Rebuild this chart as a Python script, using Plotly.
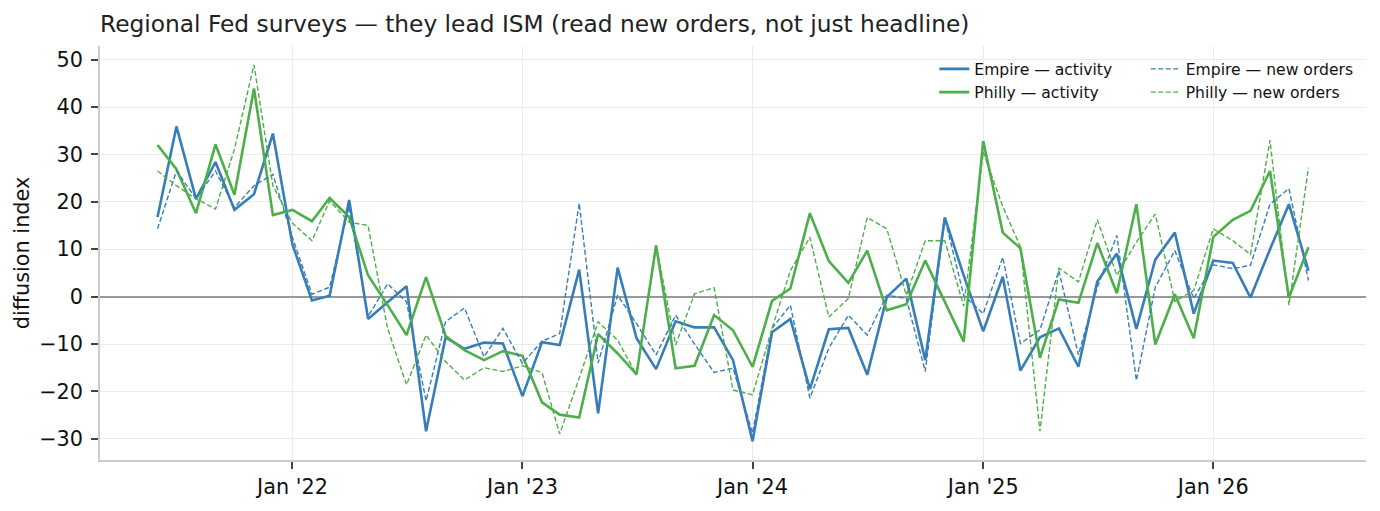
import plotly.graph_objects as go
import pandas as pd

# ---- data (monthly, Jun 2021 .. Jun 2026) ----
months = pd.date_range("2021-06-01", periods=61, freq="MS")

empire_activity = [
    16.8, 35.9, 20.6, 28.4, 18.3, 21.6, 34.4, 11.0, -0.8, 0.2,
    20.4, -4.7, -1.2, 2.2, -28.4, -8.6, -11.0, -9.7, -9.9, -21.0,
    -9.6, -10.2, 5.7, -24.6, 6.1, -8.8, -15.3, -5.2, -6.5, -6.5,
    -13.4, -30.5, -7.5, -4.7, -19.5, -6.9, -6.6, -16.5, -0.1, 3.8,
    -13.4, 16.7, 4.5, -7.3, 4.2, -15.6, -8.6, -6.7, -14.8, 3.2,
    9.1, -6.8, 7.8, 13.5, -3.6, 7.6, 7.1, -0.2, 10.0, 19.5,
    5.5,
]
philly_activity = [
    32.0, 26.9, 17.6, 32.1, 21.5, 43.9, 17.2, 18.3, 15.9, 20.8,
    16.8, 4.5, -1.8, -8.1, 4.1, -8.3, -11.3, -13.4, -11.5, -12.5,
    -22.3, -24.9, -25.5, -7.9, -12.0, -16.4, 10.8, -15.1, -14.6, -3.9,
    -7.1, -14.8, -0.9, 1.7, 17.6, 7.5, 2.9, 9.7, -2.9, -1.6,
    7.6, -1.1, -9.5, 32.8, 13.5, 10.2, -12.9, -0.6, -1.3, 11.3,
    0.7, 19.5, -10.1, 0.5, -8.8, 12.6, 16.2, 18.1, 26.5, -0.2,
    10.4,
]
empire_new_orders = [
    14.3, 26.5, 20.7, 26.5, 18.8, 23.4, 25.8, 12.5, 0.5, 2.0,
    19.0, -4.2, 2.7, -1.1, -22.0, -5.3, -2.4, -12.7, -6.7, -14.1,
    -9.4, -7.8, 19.7, -14.0, 0.3, -5.7, -12.3, -3.9, -10.0, -16.0,
    -15.1, -28.8, -6.7, -1.8, -21.4, -10.9, -3.9, -8.1, 0.3, -0.4,
    -15.8, 16.5, 0.3, -3.6, 8.3, -9.9, -7.0, 5.5, -12.3, 2.0,
    12.9, -17.7, 2.0, 9.7, -0.4, 6.7, 5.9, 6.6, 19.5, 22.8,
    3.4,
]
philly_new_orders = [
    26.5, 23.4, 20.6, 18.5, 31.1, 48.9, 23.4, 15.5, 11.8, 20.2,
    15.7, 15.0, -6.7, -18.6, -8.1, -13.7, -17.6, -15.0, -15.8, -14.6,
    -16.0, -29.0, -17.2, -5.3, -9.2, -16.5, 10.8, -10.2, 0.6, 1.9,
    -19.7, -20.7, -6.7, 5.5, 12.5, -4.3, -0.4, 16.7, 14.3, 0.3,
    11.8, 11.8, -2.0, 30.5, 19.0, 10.5, -28.4, 6.0, 3.1, 16.2,
    4.5, 11.5, 17.4, -1.0, 1.3, 14.3, 11.8, 8.9, 33.0, -1.8,
    27.2,
]

x_tick_dates = ["2022-01-01", "2023-01-01", "2024-01-01", "2025-01-01", "2026-01-01"]
x_tick_labels = ["Jan '22", "Jan '23", "Jan '24", "Jan '25", "Jan '26"]
y_tick_vals = [-30, -20, -10, 0, 10, 20, 30, 40, 50]
y_tick_labels = ["\u221230", "\u221220", "\u221210", "0", "10", "20", "30", "40", "50"]

TITLE = "Regional Fed surveys \u2014 they lead ISM (read new orders, not just headline)"
BLUE = "#377eb8"
GREEN = "#4daf4a"
FONT = "DejaVu Sans"

fig = go.Figure()
fig.add_trace(go.Scatter(x=months, y=empire_activity, mode="lines",
                         name="Empire \u2014 activity",
                         line=dict(color=BLUE, width=2.6), legend="legend"))
fig.add_trace(go.Scatter(x=months, y=philly_activity, mode="lines",
                         name="Philly \u2014 activity",
                         line=dict(color=GREEN, width=2.6), legend="legend"))
fig.add_trace(go.Scatter(x=months, y=empire_new_orders, mode="lines",
                         name="Empire \u2014 new orders",
                         line=dict(color=BLUE, width=1.4, dash="5px,2.5px"), legend="legend2"))
fig.add_trace(go.Scatter(x=months, y=philly_new_orders, mode="lines",
                         name="Philly \u2014 new orders",
                         line=dict(color=GREEN, width=1.4, dash="5px,2.5px"), legend="legend2"))

span = months[-1] - months[0]
x0 = months[0] - span * 0.05
x1 = months[-1] + span * 0.05

ymin = min(min(empire_activity), min(philly_activity), min(empire_new_orders), min(philly_new_orders))
ymax = max(max(empire_activity), max(philly_activity), max(empire_new_orders), max(philly_new_orders))
ypad = (ymax - ymin) * 0.05

legend_common = dict(
    font=dict(family=FONT, size=15.6, color="#111"),
    bgcolor="rgba(255,255,255,0)", borderwidth=0,
    xanchor="left", yanchor="top", tracegroupgap=0,
    itemwidth=30,
)

fig.update_layout(
    width=1380, height=511,
    margin=dict(l=100, r=14, t=46, b=49),
    paper_bgcolor="white", plot_bgcolor="white",
    font=dict(family=FONT, color="#111"),
    title=dict(text=TITLE, x=0, xref="paper", xanchor="left",
               y=1 - 24 / 511, yref="container", yanchor="middle",
               font=dict(family=FONT, size=23.3, color="#222")),
    showlegend=True,
    legend=dict(x=0.659, y=0.985, **legend_common),
    legend2=dict(x=0.826, y=0.985, **legend_common),
    xaxis=dict(
        type="date", range=[x0, x1],
        tickvals=x_tick_dates, ticktext=x_tick_labels,
        showgrid=True, gridcolor="#ebebeb", gridwidth=1,
        showline=True, linecolor="#cccccc", linewidth=1.5,
        ticks="outside", ticklen=7, tickwidth=1.5, tickcolor="#444",
        tickfont=dict(family=FONT, size=20.8, color="#111"),
        zeroline=False,
    ),
    yaxis=dict(
        range=[ymin - ypad, ymax + ypad],
        tickvals=y_tick_vals, ticktext=y_tick_labels,
        showgrid=True, gridcolor="#ebebeb", gridwidth=1,
        showline=True, linecolor="#cccccc", linewidth=1.5,
        ticks="outside", ticklen=7, tickwidth=1.5, tickcolor="#444",
        tickfont=dict(family=FONT, size=20.8, color="#111"),
        ticklabelstandoff=4,
        zeroline=True, zerolinecolor="#999999", zerolinewidth=1.6,
        title=dict(text="diffusion index", standoff=4,
                   font=dict(family=FONT, size=20.8, color="#111")),
    ),
)

fig.write_html("out.html")
